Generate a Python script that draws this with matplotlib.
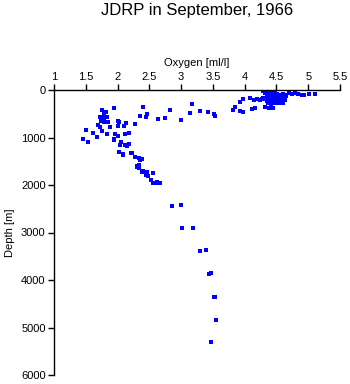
import matplotlib
matplotlib.use("Agg")
import matplotlib.pyplot as plt

# Oxygen [ml/l] and depth [m]
oxygen = [
    # deep
    2.85, 3.00, 3.02, 3.19, 3.30, 3.39, 3.44, 3.47, 3.51, 3.54, 3.55, 3.47,
    # 1000-2000 m
    2.31, 2.35, 2.34, 2.30, 2.33, 2.39, 2.40, 2.46, 2.45, 2.48, 2.56, 2.52,
    2.55, 2.62, 2.67, 2.60, 2.27, 2.34, 2.38, 2.22, 2.08, 2.03, 2.14, 2.18,
    2.15, 2.04, 2.12, 2.05, 1.95, 2.09, 2.21,
    # 400-1000 m, low oxygen
    1.76, 1.82, 1.95, 1.78, 1.83, 1.72, 1.79, 1.74, 1.85, 1.78, 1.70, 1.72,
    1.88, 2.00, 2.03, 2.13, 2.00, 2.10, 2.27, 1.51, 1.61, 1.76, 1.67, 1.84,
    1.96, 2.00, 2.12, 2.18, 1.45, 1.54, 1.95,
    # 200-650 m, intermediate
    2.40, 2.36, 2.46, 2.44, 2.63, 2.75, 2.83, 3.00, 3.17, 3.14, 3.29, 3.42,
    3.52, 3.54, 3.81, 3.85, 3.92, 3.98, 3.92, 3.98, 4.09, 4.15, 4.19, 4.27,
    4.11, 4.17, 4.32, 4.35,
    # surface cluster
    4.29, 4.34, 4.39, 4.43, 4.48, 4.36, 4.41, 4.46,
    4.32, 4.37, 4.41, 4.46, 4.51, 4.56, 4.60, 4.65, 4.70, 4.74, 4.79, 4.84,
    4.90, 4.93, 5.01, 5.11,
    4.35, 4.40, 4.45, 4.50, 4.55, 4.60, 4.65, 4.53, 4.58, 4.62,
    4.24, 4.29, 4.34, 4.40, 4.46, 4.52, 4.59, 4.63,
    4.37, 4.43, 4.49, 4.56, 4.61, 4.47, 4.52,
    4.16, 4.32, 4.38, 4.45, 4.42,
]
depth = [
    2450, 2430, 2910, 2910, 3395, 3375, 3865, 3852, 4351, 4351, 4842, 5311,
    1594, 1474, 1579, 1615, 1648, 1720, 1705, 1720, 1789, 1810, 1753, 1895,
    1951, 1930, 1964, 1964, 1417, 1425, 1459, 1332, 1368, 1299, 1158, 1137,
    1172, 1158, 1158, 1088, 1053, 1354, 1332,
    427, 457, 385, 512, 562, 575, 596, 646, 667, 680, 737, 773,
    785, 653, 674, 688, 751, 751, 722, 842, 911, 863, 983, 926,
    933, 962, 933, 911, 1031, 1088, 1038,
    364, 547, 512, 575, 604, 596, 427, 632, 301, 490, 448, 469,
    499, 547, 427, 364, 442, 457, 259, 196, 175, 210, 189, 196,
    400, 385, 352, 232,
    20, 5, 0, 10, 25, 40, 30, 45,
    70, 90, 80, 100, 75, 95, 85, 110, 70, 90, 70, 90,
    95, 105, 90, 84,
    130, 140, 120, 150, 135, 145, 125, 160, 170, 150,
    200, 175, 190, 210, 180, 200, 190, 210,
    280, 275, 270, 280, 280, 240, 260,
    370, 352, 370, 385, 320,
]

xticks = [1, 1.5, 2, 2.5, 3, 3.5, 4, 4.5, 5, 5.5]
xticklabels = ["1", "1.5", "2", "2.5", "3", "3.5", "4", "4.5", "5", "5.5"]
yticks = [0, 1000, 2000, 3000, 4000, 5000, 6000]

plt.rcParams["font.family"] = ["Liberation Sans", "DejaVu Sans"]

fig = plt.figure(figsize=(3.5, 3.84), dpi=100)
ax = fig.add_axes([54/350, 1 - 375/384, (340-54)/350, (375-90)/384])

ax.scatter(oxygen, depth, s=6, marker="s", color="#0000FF", linewidths=0)

ax.set_xlim(1, 5.5)
ax.set_ylim(6000, 0)
ax.xaxis.tick_top()
ax.xaxis.set_label_position("top")
ax.set_xticks(xticks)
ax.set_xticklabels(xticklabels)
ax.set_yticks(yticks)
ax.spines["right"].set_visible(False)
ax.spines["bottom"].set_visible(False)
for s in ("top", "left"):
    ax.spines[s].set_linewidth(1.0)
ax.tick_params(axis="both", direction="out", length=4, width=1.0,
               labelsize=8, pad=2)
ax.set_xlabel("Oxygen [ml/l]", fontsize=8, labelpad=4)
ax.set_ylabel("Depth [m]", fontsize=8, labelpad=4)

fig.text(197/350, 1 - 11/384, "JDRP in September, 1966", ha="center",
         va="center", fontsize=12)

fig.savefig("out.png", dpi=100)
